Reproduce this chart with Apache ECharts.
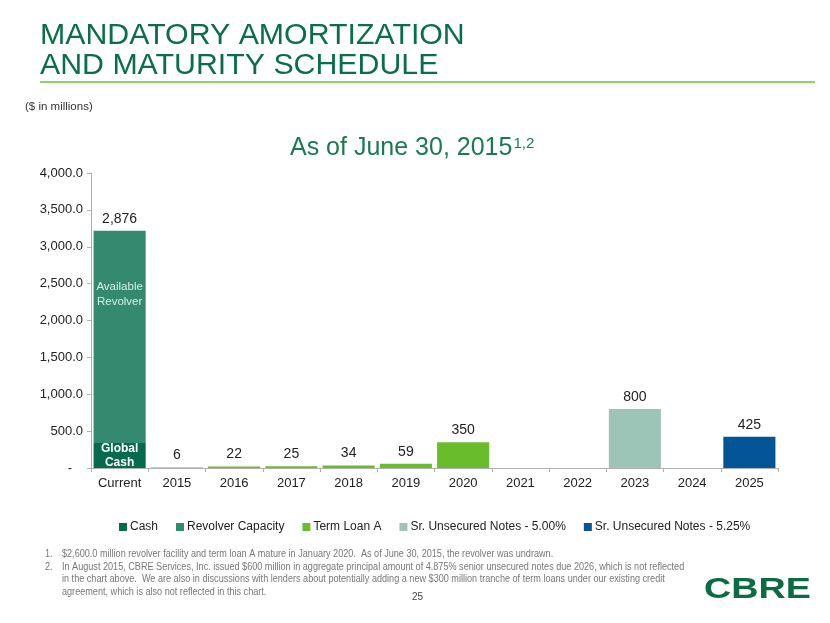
<!DOCTYPE html>
<html><head><meta charset="utf-8">
<script src="https://cdn.jsdelivr.net/npm/echarts@6/dist/echarts.min.js"></script>
<style>html,body{margin:0;padding:0;background:#fff}#c{width:830px;height:623px}</style>
</head><body><div id="c"></div>
<script>
const categories = ['Current','2015','2016','2017','2018','2019','2020','2021','2022','2023','2024','2025'];
const cash       = [340, null, null, null, null, null, null, null, null, null, null, null];
const revolver   = [2876, null, null, null, null, null, null, null, null, null, null, null];
const termLoanA  = [null, 6, 22, 25, 34, 59, 350, null, null, null, null, null];
const notes500   = [null, null, null, null, null, null, null, null, null, 800, null, null];
const notes525   = [null, null, null, null, null, null, null, null, null, null, null, 425];
const yTicks = [0, 500, 1000, 1500, 2000, 2500, 3000, 3500, 4000];

const FONT = 'Liberation Sans, Arial, sans-serif';
const chart = echarts.init(document.getElementById('c'), null, {renderer:'canvas'});

function fmtY(v){ return v === 0 ? '-   ' : v.toLocaleString('en-US',{minimumFractionDigits:1, maximumFractionDigits:1}); }
function fmtV(v){ return v.toLocaleString('en-US'); }

const topLabel = {show:true, position:'top', distance:5, color:'#222', fontSize:14, fontFamily:FONT,
  formatter: p => p.value == null ? '' : fmtV(p.value)};

chart.setOption({
  animation:false,
  textStyle:{fontFamily:FONT},
  grid:{left:91, right:52, top:173, bottom:155, containLabel:false},
  xAxis:{type:'category', data:categories,
    axisLine:{lineStyle:{color:'#b0b0b0'}},
    axisTick:{show:true, interval:0, length:4, lineStyle:{color:'#b0b0b0'}},
    axisLabel:{color:'#222', fontSize:13, margin:9, interval:0}},
  yAxis:{type:'value', min:yTicks[0], max:yTicks[yTicks.length-1], interval:500,
    axisLine:{show:true, lineStyle:{color:'#b0b0b0'}},
    axisTick:{show:true, length:4, lineStyle:{color:'#b0b0b0'}},
    splitLine:{show:false},
    axisLabel:{color:'#222', fontSize:13, margin:8, formatter:fmtY}},
  legend:{top:516, left:114, icon:'rect', itemWidth:8, itemHeight:8, itemGap:18,
    textStyle:{color:'#222', fontSize:12, padding:[0,0,0,-2]},
    data:['Cash','Revolver Capacity','Term Loan A','Sr. Unsecured Notes - 5.00%','Sr. Unsecured Notes - 5.25%']},
  title:{text:'{a|As of June 30, 2015}{s|1,2}', left:290, top:136, padding:0,
    textStyle:{fontWeight:'normal', rich:{a:{fontSize:25, color:'#1B7A52', fontFamily:FONT, fontWeight:'normal'}, s:{fontSize:15, color:'#1B7A52', verticalAlign:'top', fontFamily:FONT, fontWeight:'normal', padding:[0,0,0,1]}}}},
  series:[
    {name:'Cash', type:'bar', stack:'s', data:cash, barCategoryGap:'9%', itemStyle:{color:'#056B4A'},
      label:{show:true, position:'inside', color:'#fff', fontWeight:'bold', fontSize:12, lineHeight:14,
        formatter: p => p.value == null ? '' : 'Global\nCash'}},
    {name:'Revolver Capacity', type:'bar', stack:'s', data:revolver, itemStyle:{color:'#338A6F'},
      label:{show:true, position:['50%', 64], align:'center', verticalAlign:'middle', color:'#d6eee3', fontSize:11.5, lineHeight:15,
        formatter: p => p.value == null ? '' : 'Available\nRevolver'}},
    {name:'Revolver label', type:'bar', stack:'s', data:revolver.map(v => v == null ? null : 0), itemStyle:{color:'transparent'},
      label:{show:true, position:'top', distance:5, color:'#222', fontSize:14,
        formatter: p => { const v = revolver[p.dataIndex]; return v == null ? '' : fmtV(v); }}},
    {name:'Term Loan A', type:'bar', stack:'s', data:termLoanA, itemStyle:{color:'#6ABD2A'}, label:topLabel},
    {name:'Sr. Unsecured Notes - 5.00%', type:'bar', stack:'s', data:notes500, itemStyle:{color:'#9CC4B7'}, label:topLabel},
    {name:'Sr. Unsecured Notes - 5.25%', type:'bar', stack:'s', data:notes525, itemStyle:{color:'#045597'}, label:topLabel}
  ],
  graphic:[
    {type:'text', x:40, y:21, style:{text:'MANDATORY AMORTIZATION\nAND MATURITY SCHEDULE', fill:'#0A6E48', font:'30.3px Liberation Sans', lineHeight:30}},
    {type:'rect', shape:{x:40, y:81, width:775, height:2}, style:{fill:'#8FD36A'}},
    {type:'text', x:25, y:101, style:{text:'($ in millions)', fill:'#333', font:'11.5px Liberation Sans'}},
    {type:'text', x:45, y:548, scaleX:0.91, style:{text:'1.\n2.', fill:'#777', font:'10px Liberation Sans', lineHeight:12.5}},
    {type:'text', x:62, y:548, scaleX:0.91, style:{text:'$2,600.0 million revolver facility and term loan A mature in January 2020.  As of June 30, 2015, the revolver was undrawn.\nIn August 2015, CBRE Services, Inc. issued $600 million in aggregate principal amount of 4.875% senior unsecured notes due 2026, which is not reflected\nin the chart above.  We are also in discussions with lenders about potentially adding a new $300 million tranche of term loans under our existing credit\nagreement, which is also not reflected in this chart.', fill:'#777', font:'10px Liberation Sans', lineHeight:12.5}},
    {type:'text', x:412, y:592, style:{text:'25', fill:'#444', font:'10px Liberation Sans'}},
    {type:'text', x:704, y:575, scaleX:1.3, style:{text:'CBRE', fill:'#0B6B43', font:'bold 29px Liberation Sans'}}
  ]
});
</script></body></html>
